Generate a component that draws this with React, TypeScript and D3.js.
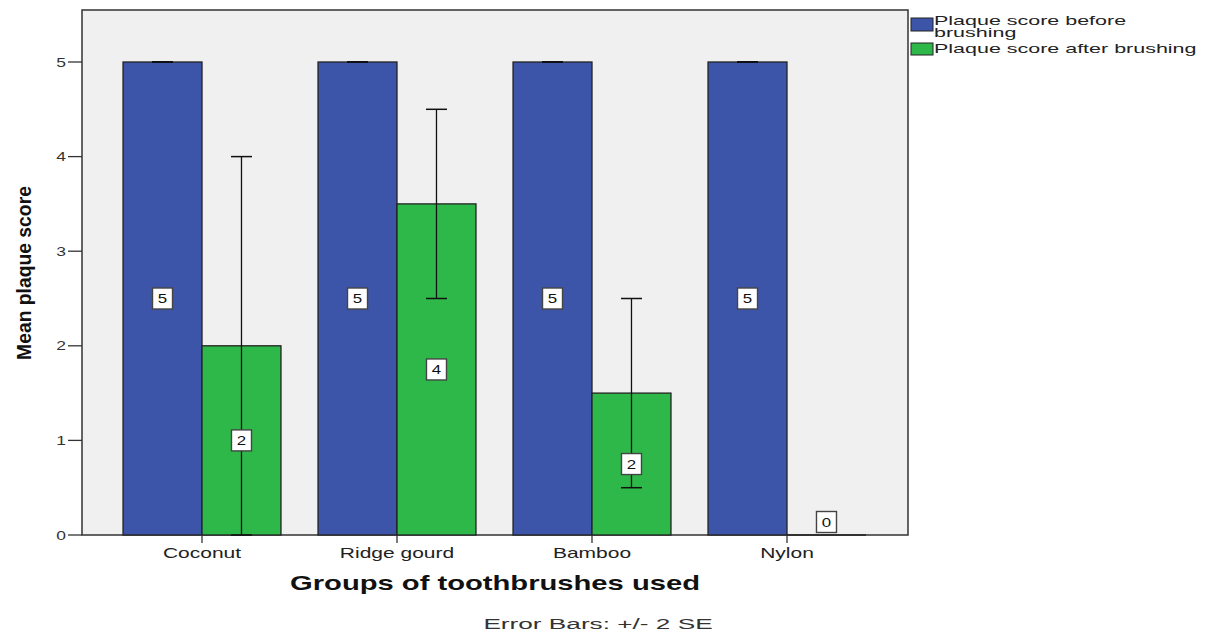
import React from "react";
import * as d3 from "d3";

const categories = ["Coconut", "Ridge gourd", "Bamboo", "Nylon"];
const seriesNames = ["Plaque score before brushing", "Plaque score after brushing"];
const beforeValues = [5, 5, 5, 5];
const afterValues = [2, 3.5, 1.5, 0];
const beforeErrLow = [5, 5, 5, 5];
const beforeErrHigh = [5, 5, 5, 5];
const afterErrLow = [0, 2.5, 0.5, 0];
const afterErrHigh = [4, 4.5, 2.5, 0];
const yTicks = [0, 1, 2, 3, 4, 5];

const W = 1211, H = 633;
const frame = { left: 82, right: 908, top: 10, bottom: 535 };
const colors = ["#3d55a8", "#2fb84a"];
const FONT = "'Liberation Sans', Arial, sans-serif";

export default function App() {
  const y = d3.scaleLinear().domain([0, 5.5]).range([frame.bottom, frame.bottom - 5.5 * 94.6]);
  const x = d3.scaleBand<string>().domain(categories).range([104.5, 884.5]).paddingInner(0.19).paddingOuter(0.095);
  const inner = d3.scaleBand<number>().domain([0, 1]).range([0, x.bandwidth()]);
  const series = [
    { vals: beforeValues, lo: beforeErrLow, hi: beforeErrHigh },
    { vals: afterValues, lo: afterErrLow, hi: afterErrHigh },
  ];
  const capW = 21;

  return (
    <svg width={W} height={H} style={{ position: "absolute", left: 0, top: 0 }}>
      <rect x={0} y={0} width={W} height={H} fill="#ffffff" />
      <rect x={frame.left} y={frame.top} width={frame.right - frame.left} height={frame.bottom - frame.top} fill="#f0f0f0" stroke="#333" strokeWidth={1.5} />
      {/* bars */}
      {series.map((s, si) =>
        categories.map((c, ci) => {
          const bx = (x(c) as number) + (inner(si) as number);
          const bw = inner.bandwidth();
          const v = s.vals[ci];
          return v > 0 ? (
            <rect key={`b${si}-${ci}`} x={bx} y={y(v)} width={bw} height={y(0) - y(v)} fill={colors[si]} stroke="#222" strokeWidth={1.3} />
          ) : (
            <line key={`b${si}-${ci}`} x1={bx} x2={bx + bw} y1={y(0)} y2={y(0)} stroke="#222" strokeWidth={1.5} />
          );
        })
      )}
      {/* error bars */}
      {series.map((s, si) =>
        categories.map((c, ci) => {
          const cx = (x(c) as number) + (inner(si) as number) + inner.bandwidth() / 2;
          const lo = s.lo[ci], hi = s.hi[ci];
          if (si === 1 && s.vals[ci] === 0) return null;
          return (
            <g key={`e${si}-${ci}`} stroke="#111" strokeWidth={1.3}>
              <line x1={cx} x2={cx} y1={y(lo)} y2={y(hi)} />
              <line x1={cx - capW / 2} x2={cx + capW / 2} y1={y(hi)} y2={y(hi)} strokeWidth={hi === lo ? 2 : 1.5} />
              <line x1={cx - capW / 2} x2={cx + capW / 2} y1={y(lo)} y2={y(lo)} strokeWidth={hi === lo ? 2 : 1.5} />
            </g>
          );
        })
      )}
      {/* value labels */}
      {series.map((s, si) =>
        categories.map((c, ci) => {
          const cx = (x(c) as number) + (inner(si) as number) + inner.bandwidth() / 2;
          const v = s.vals[ci];
          const cy = v > 0 ? y(v / 2) : y(0) - 13;
          return (
            <g key={`l${si}-${ci}`} transform={`translate(${cx},${cy})`}>
              <rect x={-10} y={-10.5} width={20} height={21} fill="#ffffff" stroke="#444" strokeWidth={1.4} />
              <text x={0} y={4.5} textAnchor="middle" fontFamily={FONT} fontSize={12.5} fill="#111" transform="scale(1.35,1)">
                {Math.round(v)}
              </text>
            </g>
          );
        })
      )}
      {/* y axis ticks */}
      {yTicks.map((t) => (
        <g key={`yt${t}`}>
          <line x1={frame.left - 14} x2={frame.left} y1={y(t)} y2={y(t)} stroke="#333" strokeWidth={1.3} />
          <text transform={`translate(${frame.left - 16},${y(t) + 4.5}) scale(1.4,1)`} textAnchor="end" fontFamily={FONT} fontSize={12.5} fill="#333">
            {t}
          </text>
        </g>
      ))}
      {/* x axis ticks */}
      {categories.map((c) => {
        const cx = (x(c) as number) + x.bandwidth() / 2;
        return (
          <g key={`xt${c}`}>
            <line x1={cx} x2={cx} y1={frame.bottom} y2={frame.bottom + 8} stroke="#333" strokeWidth={1.3} />
            <text transform={`translate(${cx},${frame.bottom + 23}) scale(1.5,1)`} textAnchor="middle" fontFamily={FONT} fontSize={14} fill="#222">
              {c}
            </text>
          </g>
        );
      })}
      {/* axis titles */}
      <text transform={`translate(495,590) scale(1.39,1)`} textAnchor="middle" fontFamily={FONT} fontWeight="bold" fontSize={21} fill="#111">
        Groups of toothbrushes used
      </text>
      <text transform={`translate(31,273) rotate(-90) scale(0.92,1)`} textAnchor="middle" fontFamily={FONT} fontWeight="bold" fontSize={21} fill="#111">
        Mean plaque score
      </text>
      <text transform={`translate(598,629) scale(1.69,1)`} textAnchor="middle" fontFamily={FONT} fontSize={15.5} fill="#333">
        Error Bars: +/- 2 SE
      </text>
      {/* legend */}
      <g>
        <rect x={911} y={18} width={22} height={13} fill={colors[0]} stroke="#222" strokeWidth={1} />
        <rect x={911} y={43} width={22} height={12} fill={colors[1]} stroke="#222" strokeWidth={1} />
        <text transform="translate(934,24.5) scale(1.76,1)" fontFamily={FONT} fontSize={12.2} fill="#222">Plaque score before</text>
        <text transform="translate(934,36.5) scale(1.76,1)" fontFamily={FONT} fontSize={12.2} fill="#222">brushing</text>
        <text transform="translate(934,52.5) scale(1.76,1)" fontFamily={FONT} fontSize={12.2} fill="#222">{seriesNames[1]}</text>
      </g>
    </svg>
  );
}
